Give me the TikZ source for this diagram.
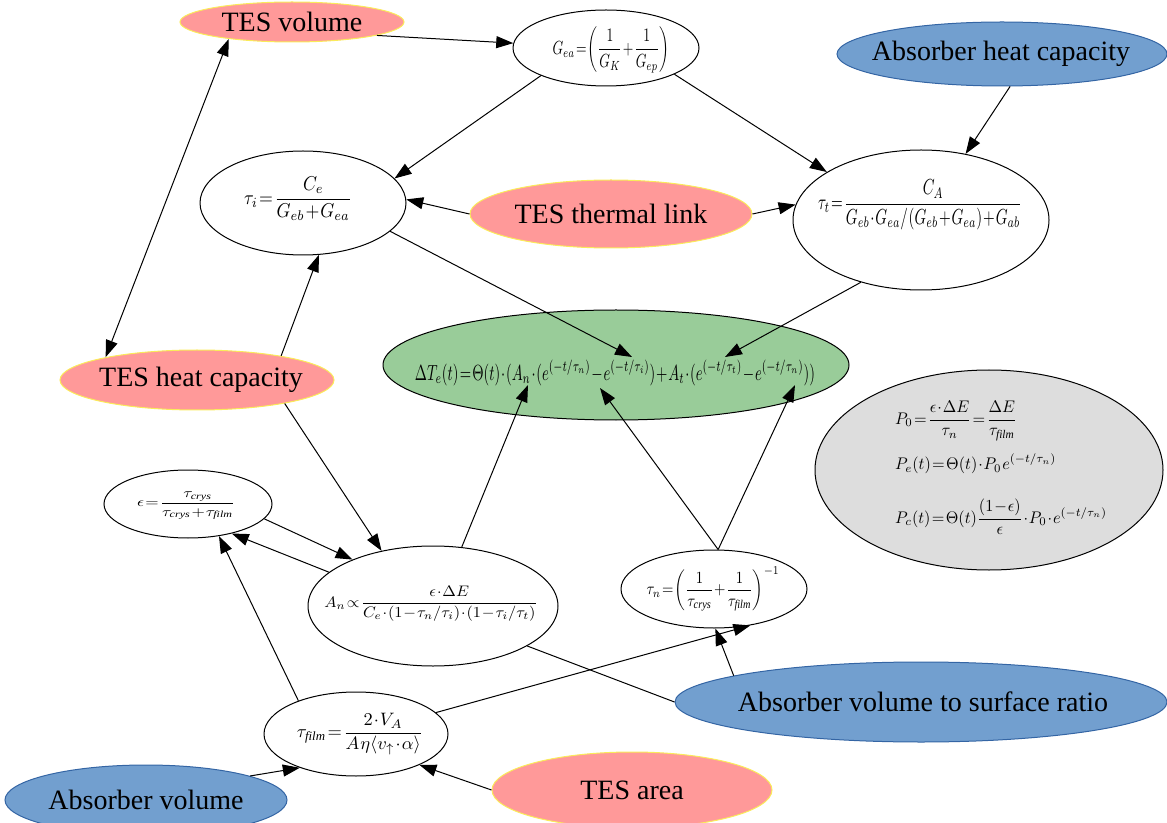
\documentclass[tikz,border=0pt]{standalone}
\usepackage{fontspec}
\setmainfont{Liberation Serif}
\usetikzlibrary{shapes.geometric,arrows.meta,calc}
\definecolor{pinkf}{RGB}{255,153,153}
\definecolor{pinkd}{RGB}{250,235,90}
\definecolor{bluef}{RGB}{114,159,207}
\definecolor{blued}{RGB}{52,101,164}
\definecolor{greenf}{RGB}{153,204,153}
\definecolor{grayf}{RGB}{221,221,221}
\thinmuskip=1mu
\medmuskip=1mu
\thickmuskip=1.5mu
% #1 width px, #2 height px, #3 formula
\newcommand\fw[3]{\resizebox*{#1\dimexpr0.75pt\relax}{#2\dimexpr0.75pt\relax}{$\displaystyle #3$}}
\begin{document}
\begin{tikzpicture}[x=0.75pt,y=-0.75pt,
  ell/.style 2 args={ellipse,draw,inner sep=0pt,line width=0.75pt,minimum width=#1*0.75pt,minimum height=#2*0.75pt},
  pinkn/.style={fill=pinkf,draw=pinkd},
  bluen/.style={fill=bluef,draw=blued},
  plain/.style={fill=white,draw=black},
  lbl/.style={inner sep=0pt,font=\fontsize{21}{25}\selectfont},
  txt/.style={inner sep=0pt},
  arr/.style={-{Triangle[length=12.75pt,width=9pt]},line width=0.75pt},
  arrb/.style={{Triangle[length=12.75pt,width=9pt]}-{Triangle[length=12.75pt,width=9pt]},line width=0.75pt},
  ln/.style={line width=0.75pt}
]
\useasboundingbox (0,0) rectangle (1167,823);
% ellipses
\node[ell={224}{40},pinkn] (tv) at (292,22) {};
\node[ell={186}{76},plain] (gea) at (606,48) {};
\node[ell={330}{64},bluen] (ahc) at (1002,54) {};
\node[ell={206}{104},plain] (ti) at (303,203) {};
\node[ell={282}{68},pinkn] (ttl) at (611,214) {};
\node[ell={256}{140},plain] (tt) at (921,220) {};
\node[ell={466}{110},fill=greenf,draw=black] (dT) at (616,365) {};
\node[ell={274}{60},pinkn] (thc) at (197,380) {};
\node[ell={348}{200},fill=grayf,draw=black] (gr) at (989,470) {};
\node[ell={168}{68},plain] (eps) at (188,504) {};
\node[ell={250}{120},plain] (An) at (433,606) {};
\node[ell={186}{78},plain] (tn) at (714,589) {};
\node[ell={492}{80},bluen] (avsr) at (921,702) {};
\node[ell={184}{84},plain] (tf) at (356,734) {};
\node[ell={282}{70},bluen] (av) at (146,800) {};
\node[ell={280}{76},pinkn] (ta) at (632,790) {};
% texts
\node[lbl] (tvt) at (292,22) {TES volume};
\node[lbl] (ahct) at (1001,54) {Absorber heat capacity};
\node[lbl] (ttlt) at (611,214) {TES thermal link};
\node[lbl] (thct) at (201,380) {TES heat capacity};
\node[lbl] (avsrt) at (923,702) {Absorber volume to surface ratio};
\node[lbl] (avt) at (146,800) {Absorber volume};
\node[lbl] (tat) at (632,790) {TES area};
\node[txt] (geat) at (611,50) {\fw{117}{46}{G_{ea}=\left(\frac{1}{G_K}+\frac{1}{G_{ep}}\right)}};
\node[txt] (tit) at (298,199) {\fw{108}{44}{\tau_i=\frac{C_e}{G_{eb}+G_{ea}}}};
\node[txt] (ttt) at (920,205) {\fw{204}{50}{\tau_t=\frac{C_A}{G_{eb}\cdot G_{ea}/\left(G_{eb}+G_{ea}\right)+G_{ab}}}};
\node[txt] (dTt) at (615,373) {\fw{400}{26}{\Delta T_e(t)=\Theta(t)\cdot(A_n\cdot(e^{\left(-t/\tau_n\right)}-e^{\left(-t/\tau_i\right)})+A_t\cdot(e^{\left(-t/\tau_t\right)}-e^{\left(-t/\tau_n\right)}))}};
\node[txt] (grt) at (1001,468) {\resizebox*{159pt}{100pt}{$\begin{array}{@{}l@{}}
\displaystyle P_0=\frac{\epsilon\cdot\Delta E}{\tau_n}=\frac{\Delta E}{\tau_{\mathit{film}}}\\[14pt]
\displaystyle P_e(t)=\Theta(t)\cdot P_0\, e^{\left(-t/\tau_n\right)}\\[14pt]
\displaystyle P_c(t)=\Theta(t)\frac{(1-\epsilon)}{\epsilon}\cdot P_0\cdot e^{\left(-t/\tau_n\right)}
\end{array}$}};
\node[txt] (epst) at (186,506) {\fw{98}{28}{\epsilon=\frac{\tau_{\mathit{crys}}}{\tau_{\mathit{crys}}+\tau_{\mathit{film}}}}};
\node[txt] (Ant) at (431,604) {\fw{213}{35}{A_n\propto\frac{\epsilon\cdot\Delta E}{C_e\cdot(1-\tau_n/\tau_i)\cdot(1-\tau_i/\tau_t)}}};
\node[txt] (tnt) at (713,589) {\fw{133}{45}{\tau_n=\left(\frac{1}{\tau_{\mathit{crys}}}+\frac{1}{\tau_{\mathit{film}}}\right)^{-1}}};
\node[txt] (tft) at (360,734) {\fw{126}{42}{\tau_{\mathit{film}}=\frac{2\cdot V_A}{A\,\eta\langle v_{\uparrow}\cdot\alpha\rangle}}};
% connectors
\draw[arr] (tv.-9.5) -- (gea.177);
\draw[arrb] (thc.166) -- (tv.195);
\draw[arr] (gea.203) -- (ti.15);
\draw[arr] (gea.-21) -- (tt.153);
\draw[arr] (ahc.-76) -- (tt.56);
\draw[arr] (ttl.180) -- (ti.2);
\draw[arr] (ttl.0) -- (tt.173);
\draw[arr] (thc.16) -- (ti.-73);
\draw[arr] (ti.-18) -- ($(dT)+(16,-8)$);
\draw[arr] (tt.226) -- ($(dT)+(109,-8)$);
\draw[arr] (thc.-15) -- (An.133.5);
\draw[arr] (An.64) -- ($(dT)+(-88,20)$);
\draw[arr] (tn.84) -- ($(dT)+(-16,23)$);
\draw[arr] (tn.84) -- ($(dT)+(179,20)$);
\draw[arr] (eps.-11) -- (An.150);
\draw[arr] (An.162) -- (eps.-34);
\draw[arr] (tf.150) -- (eps.-46);
\draw[arr] (tf.15) -- (tn.-45);
\draw[arr] (avsr.172) -- (tn.-88);
\draw[ln] (An.-23.5) -- (avsr.180);
\draw[arr] (av.13) -- (tf.211);
\draw[arr] (ta.180) -- (tf.-26);
\end{tikzpicture}
\end{document}
